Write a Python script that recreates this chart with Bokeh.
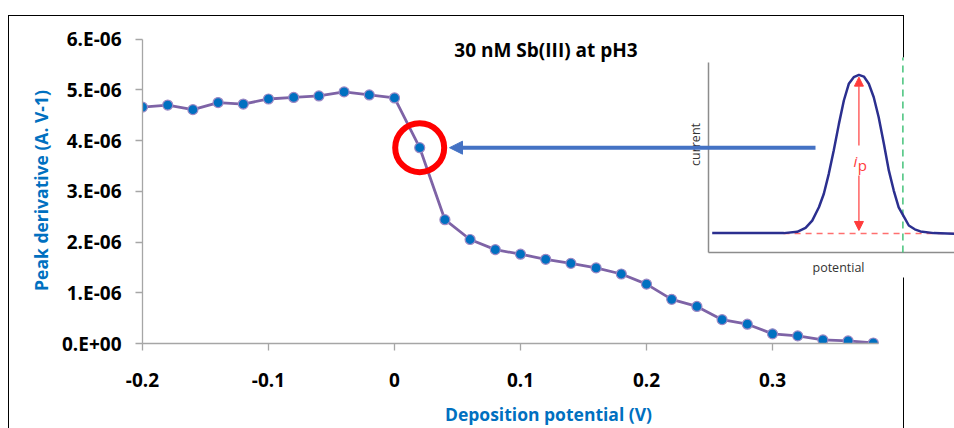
from math import pi
from bokeh.plotting import figure
from bokeh.models import (Range1d, FixedTicker, CustomJSTickFormatter, Label, Arrow,
                          NormalHead, InlineStyleSheet)
from bokeh.embed import file_html
from bokeh.resources import INLINE

# ---------------- data ----------------
deposition_potential = [-0.20, -0.18, -0.16, -0.14, -0.12, -0.10, -0.08, -0.06, -0.04, -0.02,
                        0.00, 0.02, 0.04, 0.06, 0.08, 0.10, 0.12, 0.14, 0.16, 0.18,
                        0.20, 0.22, 0.24, 0.26, 0.28, 0.30, 0.32, 0.34, 0.36, 0.38]
peak_derivative = [4.66e-6, 4.70e-6, 4.61e-6, 4.75e-6, 4.72e-6, 4.82e-6, 4.85e-6, 4.88e-6, 4.96e-6, 4.90e-6,
                   4.84e-6, 3.86e-6, 2.44e-6, 2.05e-6, 1.85e-6, 1.76e-6, 1.66e-6, 1.58e-6, 1.49e-6, 1.37e-6,
                   1.17e-6, 0.87e-6, 0.73e-6, 0.47e-6, 0.38e-6, 0.19e-6, 0.15e-6, 0.07e-6, 0.05e-6, 0.01e-6]
highlight_index = 11

x_ticks = [-0.2, -0.1, 0.0, 0.1, 0.2, 0.3]
x_tick_labels = ["-0.2", "-0.1", "0", "0.1", "0.2", "0.3"]
y_ticks = [0.0, 1e-6, 2e-6, 3e-6, 4e-6, 5e-6, 6e-6]
y_tick_labels = ["0.E+00", "1.E-06", "2.E-06", "3.E-06", "4.E-06", "5.E-06", "6.E-06"]

title_text = "30 nM Sb(III) at pH3"
x_title = "Deposition potential (V)"
y_title = "Peak derivative (A. V-1)"

# inset schematic (arbitrary units)
inset_potential = [1.5, 10, 20, 25.1, 30.5, 35.9, 39.3, 42.0, 44.7, 46.7, 48.7, 50.7, 52.8, 54.8,
                   56.8, 58.8, 60.9, 62.9, 64.9, 66.9, 68.9, 71.0, 73.0, 75.0, 77.0, 79.5, 81.1,
                   83.5, 85.8, 91.2, 99.6]
inset_current = [10.3, 10.2, 10.3, 10.2, 10.2, 10.9, 13.0, 16.8, 23.8, 30.9, 41.4, 53.7, 67.7, 80.0,
                 88.8, 92.3, 93.5, 92.6, 88.8, 81.7, 71.2, 57.2, 43.2, 32.6, 23.8, 18.0, 14.2,
                 12.2, 11.1, 10.2, 9.8]
inset_baseline = 10.0
inset_peak_potential = 60.9
inset_peak_top = 92.3
inset_cutoff_potential = 78.7
inset_x_title = "potential"
inset_y_title = "current"

# ---------------- layout / style constants ----------------
W, H = 954, 428
FL, FR, FT, FB = 142, 954, 37, 343          # frame edges in figure pixels
PX_PER_X = 1260.0                           # px per volt
PX_PER_Y = 50.73e6                          # px per (A/V)
X0 = -0.2
INSET_OX, INSET_OY = 708, 252               # inset origin in figure pixels
INSET_SX, INSET_SY = 2.47, 1.9              # px per inset unit

FONT = "Open Sans"
BLUE = "#0070C0"
AXIS_GREY = "#A6A6A6"


def fx(px):   # figure pixel -> main x
    return X0 + (px - FL) / PX_PER_X


def fy(py):   # figure pixel -> main y
    return (FB - py) / PX_PER_Y


def ix(px):   # figure pixel -> inset x
    return (px - INSET_OX) / INSET_SX


def iy(py):   # figure pixel -> inset y
    return (INSET_OY - py) / INSET_SY


p = figure(width=W, height=H, output_backend="svg", toolbar_location=None,
           x_range=Range1d(X0, fx(FR)), y_range=Range1d(0, fy(FT)),
           min_border_left=FL, min_border_right=W - FR, min_border_top=FT,
           min_border_bottom=H - FB)
p.extra_x_ranges["inset_x"] = Range1d(ix(FL), ix(FR))
p.extra_y_ranges["inset_y"] = Range1d(iy(FB), iy(FT))

p.background_fill_color = None
p.border_fill_color = None
p.outline_line_color = None
p.xgrid.visible = False
p.ygrid.visible = False

# outer chart border (chart area frame)
p.stylesheets = [InlineStyleSheet(css=""":host { position: relative; }
:host::before { content: ""; position: absolute; left: 8px; top: 15px; width: 896px; height: 413px;
  box-sizing: border-box; border-left: 1.5px solid #000; border-top: 1.5px solid #000;
  border-right: 1.5px solid #000; pointer-events: none; }""")]

# axes
fmt_code = ("let best = -1; let d = 1e99;"
            "for (let i = 0; i < tick_values.length; i++) { const e = Math.abs(tick_values[i] - tick);"
            " if (e < d) { d = e; best = i; } }"
            "return (d < tol) ? tick_labels[best] : '';")
p.xaxis.ticker = FixedTicker(ticks=x_ticks, minor_ticks=[])
p.xaxis.formatter = CustomJSTickFormatter(
    args=dict(tick_values=x_ticks, tick_labels=x_tick_labels, tol=1e-9), code=fmt_code)
p.yaxis.ticker = FixedTicker(ticks=y_ticks, minor_ticks=[])
p.yaxis.formatter = CustomJSTickFormatter(
    args=dict(tick_values=y_ticks, tick_labels=y_tick_labels, tol=1e-12), code=fmt_code)
p.xaxis.bounds = (X0, 0.384)
p.yaxis.bounds = (0, 6e-6)

for ax in (p.xaxis, p.yaxis):
    ax.axis_line_color = AXIS_GREY
    ax.axis_line_width = 1.3
    ax.major_tick_line_color = AXIS_GREY
    ax.major_tick_line_width = 1.3
    ax.major_tick_in = 0
    ax.major_tick_out = 7
    ax.minor_tick_line_color = None
    ax.major_label_text_font = FONT
    ax.major_label_text_font_style = "bold"
    ax.major_label_text_font_size = "19px"
    ax.major_label_text_color = "#000000"
    ax.axis_label_text_font = FONT
    ax.axis_label_text_font_style = "bold"
    ax.axis_label_text_font_size = "17.5px"
    ax.axis_label_text_color = BLUE

p.xaxis.axis_label = x_title
p.yaxis.axis_label = y_title
p.xaxis.major_label_standoff = 22
p.yaxis.major_label_standoff = 14
p.xaxis.axis_label_standoff = 12
p.yaxis.axis_label_standoff = 6

# ---------------- inset schematic ----------------
IX, IY = "inset_x", "inset_y"
box_top = iy(57)
p.quad(left=[ix(688)], right=[100], top=[box_top], bottom=[iy(277)],
       fill_color="white", line_color=None, x_range_name=IX, y_range_name=IY)
p.segment(x0=[0, 0], y0=[0, 0], x1=[0, 100], y1=[100, 0], line_color="#8C8C8C", line_width=1.5,
          x_range_name=IX, y_range_name=IY)
p.segment(x0=[30.4], y0=[inset_baseline], x1=[100], y1=[inset_baseline], line_color="#FF6F6F",
          line_width=1.5, line_dash="6 5", x_range_name=IX, y_range_name=IY)
p.segment(x0=[inset_cutoff_potential], y0=[0], x1=[inset_cutoff_potential], y1=[box_top],
          line_color="#45C27A", line_width=1.5, line_dash="7 5", x_range_name=IX, y_range_name=IY)
p.line(inset_potential, inset_current, line_color="#2B2F8F", line_width=2.5,
       x_range_name=IX, y_range_name=IY)
p.add_layout(Arrow(x_start=inset_peak_potential, y_start=56.3, x_end=inset_peak_potential, y_end=inset_peak_top,
                   line_color="#FF3B3B", line_width=1.2,
                   end=NormalHead(size=9, fill_color="#FF3B3B", line_color="#FF3B3B", line_width=1),
                   x_range_name=IX, y_range_name=IY))
p.add_layout(Arrow(x_start=inset_peak_potential, y_start=40.5, x_end=inset_peak_potential, y_end=11.6,
                   line_color="#FF3B3B", line_width=1.2,
                   end=NormalHead(size=9, fill_color="#FF3B3B", line_color="#FF3B3B", line_width=1),
                   x_range_name=IX, y_range_name=IY))
p.add_layout(Label(x=59.5, y=48.4, text="i", text_font=FONT, text_font_style="italic",
                   text_font_size="15px", text_color="#FF3B3B", text_align="center",
                   text_baseline="alphabetic", x_range_name=IX, y_range_name=IY))
p.add_layout(Label(x=62.3, y=45.8, text="p", text_font=FONT, text_font_size="15px",
                   text_color="#FF3B3B", text_align="center", text_baseline="alphabetic",
                   x_range_name=IX, y_range_name=IY))
p.add_layout(Label(x=ix(695), y=iy(144), text=inset_y_title, angle=pi / 2, text_font=FONT,
                   text_font_size="12.5px", text_color="#333333", text_align="center",
                   text_baseline="middle", x_range_name=IX, y_range_name=IY))
p.add_layout(Label(x=ix(838), y=iy(267), text=inset_x_title, text_font=FONT,
                   text_font_size="12.5px", text_color="#333333", text_align="center",
                   text_baseline="middle", x_range_name=IX, y_range_name=IY))

# ---------------- main series ----------------
p.line(deposition_potential, peak_derivative, line_color="#7E63A6", line_width=2.8)
p.scatter(deposition_potential, peak_derivative, marker="circle", size=10,
          fill_color=BLUE, line_color="#9C88C4", line_width=1.2)

hx = deposition_potential[highlight_index]
hy = peak_derivative[highlight_index]
p.scatter([hx], [hy], marker="circle", size=49, fill_color=None, line_color="#FF0000", line_width=6)

p.add_layout(Arrow(x_start=fx(815), y_start=hy, x_end=fx(449), y_end=hy,
                   line_color="#4472C4", line_width=4,
                   end=NormalHead(size=13, fill_color="#4472C4", line_color="#4472C4", line_width=1)))

p.add_layout(Label(x=fx(545.5), y=fy(49.5), text=title_text, text_font=FONT,
                   text_font_style="bold", text_font_size="19px", text_color="#000000",
                   text_align="center", text_baseline="middle"))

open("out.html", "w").write(file_html(p, INLINE))
